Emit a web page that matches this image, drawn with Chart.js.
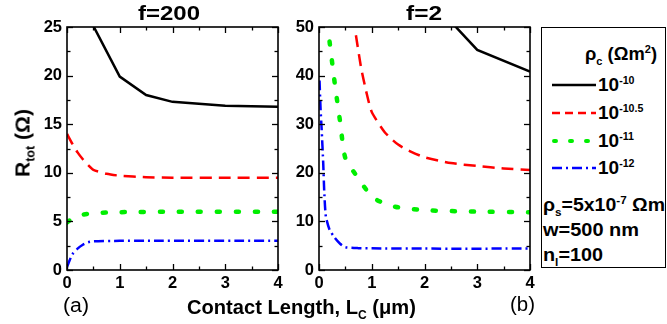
<!DOCTYPE html>
<html>
<head>
<meta charset="utf-8">
<script src="https://cdn.jsdelivr.net/npm/chart.js@4.4.1/dist/chart.umd.min.js"></script>
<style>
  html,body{margin:0;padding:0;background:#fff;}
  body{width:667px;height:324px;position:relative;overflow:hidden;font-family:"Liberation Sans",Arial,sans-serif;color:#000;}
  .abs{position:absolute;white-space:nowrap;line-height:1;transform-origin:0 0;}
  .b{font-weight:bold;}
  sup,sub{font-size:60%;line-height:0;}
  .leg sup{font-size:56%;vertical-align:0.7em;}
  #legend{position:absolute;left:541px;top:27px;width:125px;height:241px;border:1.5px solid #000;box-sizing:border-box;}
</style>
</head>
<body>
<canvas id="cA" class="abs" style="left:0;top:0;" width="290" height="324"></canvas>
<canvas id="cB" class="abs" style="left:290px;top:0;" width="250" height="324"></canvas>

<div class="abs b fit" data-w="62" style="left:138px;top:3px;font-size:20px;">f=200</div>
<div class="abs b fit" data-w="36" style="left:406px;top:3px;font-size:20px;">f=2</div>
<div class="abs b" style="left:22px;top:143px;font-size:21px;transform-origin:50% 50%;transform:translate(-50%,-50%) rotate(-90deg);">R<sub>tot</sub> (Ω)</div>
<div class="abs b fit" data-w="229" style="left:187px;top:297px;font-size:20px;">Contact Length, L<sub>C</sub> (μm)</div>
<div class="abs fit" data-w="26" style="left:63px;top:295px;font-size:20px;">(a)</div>
<div class="abs fit" data-w="25" style="left:510px;top:294px;font-size:20px;">(b)</div>

<div id="legend"></div>
<div class="abs b fit" data-w="72" style="left:585px;top:45px;font-size:18px;">ρ<sub>c</sub> (Ωm<sup>2</sup>)</div>
<svg class="abs" style="left:541px;top:27px;" width="124" height="240">
  <line x1="11" y1="58" x2="55" y2="58" stroke="#000" stroke-width="2.5"/>
  <line x1="11" y1="86" x2="55" y2="86" stroke="#ff0000" stroke-width="2.5" stroke-dasharray="8 5"/>
  <line x1="13" y1="114" x2="55" y2="114" stroke="#00ee00" stroke-width="4" stroke-linecap="round" stroke-dasharray="2 14"/>
  <line x1="11" y1="141" x2="55" y2="141" stroke="#0000ff" stroke-width="2.5" stroke-dasharray="10 4 2 4"/>
</svg>
<div id="legtxt"></div>
<div class="abs b fit" data-w="122" style="left:543px;top:195px;font-size:19px;">ρ<sub>s</sub>=5x10<sup>-7</sup> Ωm</div>
<div class="abs b fit" data-w="96" style="left:543px;top:220px;font-size:19px;">w=500 nm</div>
<div class="abs b fit" data-w="60" style="left:543px;top:245px;font-size:19px;">n<sub>l</sub>=100</div>

<script>
// ---------- data ----------
const seriesLabels = ["-10", "-10.5", "-11", "-12"];
const seriesColors = ["#000000", "#ff0000", "#00ee00", "#0000ff"];

// Panel (a): f=200
const aBlackX = [0.25, 0.5, 1, 1.5, 2, 3, 4];
const aBlackY = [34, 25.1, 19.9, 18.0, 17.3, 16.9, 16.8];
const aRedX = [0, 0.1, 0.2, 0.3, 0.4, 0.5, 0.75, 1, 1.5, 2, 3, 4];
const aRedY = [14.0, 13.0, 12.1, 11.4, 10.8, 10.3, 9.9, 9.7, 9.55, 9.5, 9.5, 9.5];
const aGreenX = [0, 0.1, 0.2, 0.3, 0.5, 1, 2, 4];
const aGreenY = [4.9, 5.3, 5.55, 5.7, 5.85, 5.95, 6.0, 6.0];
const aBlueX = [0, 0.05, 0.1, 0.2, 0.3, 0.4, 0.5, 1, 4];
const aBlueY = [0.3, 1.0, 1.6, 2.2, 2.6, 2.85, 2.95, 3.0, 3.0];

// Panel (b): f=2
const bBlackX = [2, 2.5, 3, 4];
const bBlackY = [60, 51.1, 45.3, 40.8];
const bRedX = [0.7, 0.8, 0.9, 1, 1.25, 1.5, 1.75, 2, 2.5, 3, 3.5, 4];
const bRedY = [48.3, 41.5, 36.5, 32.5, 28.3, 25.8, 24.3, 23.2, 22.0, 21.4, 20.9, 20.6];
const bGreenX = [0.2, 0.3, 0.4, 0.5, 0.75, 1, 1.25, 1.5, 2, 3, 4];
const bGreenY = [47, 38.3, 30.5, 23, 18.8, 15.1, 13.6, 12.9, 12.3, 12.0, 11.9];
const bBlueX = [0.01, 0.03, 0.05, 0.08, 0.1, 0.13, 0.2, 0.3, 0.4, 0.5, 0.75, 1, 2, 4];
const bBlueY = [39, 33, 29, 22, 16, 11, 8.3, 6.6, 5.4, 4.7, 4.5, 4.45, 4.4, 4.4];

// axis ranges / ticks
const aXRange = [0, 4], aYRange = [0, 25];
const bXRange = [0, 4], bYRange = [0, 50];
const aXStep = 1, aYStep = 5, bXStep = 1, bYStep = 10;

// ---------- legend text ----------
const legtxt = document.getElementById('legtxt');
const legTops = [75, 103, 131, 158];
seriesLabels.forEach((s, i) => {
  const d = document.createElement('div');
  d.className = 'abs b leg';
  d.style.left = '598px';
  d.style.top = legTops[i] + 'px';
  d.style.fontSize = '19px';
  d.innerHTML = '10<sup>' + s + '</sup>';
  legtxt.appendChild(d);
});

// horizontally fit text blocks to the reference widths
document.querySelectorAll('.fit').forEach(el => {
  const w = el.getBoundingClientRect().width;
  const t = parseFloat(el.dataset.w);
  if (w > 0) el.style.transform = 'scaleX(' + (t / w).toFixed(3) + ')';
});

// ---------- helpers ----------
const pts = (xs, ys) => xs.map((x, i) => ({x, y: ys[i]}));
const styles = [
  {borderWidth: 2.5, borderDash: [], tension: 0},
  {borderWidth: 2.5, borderDash: [12, 7], tension: 0.2},
  {borderWidth: 4.5, borderDash: [3, 16], borderCapStyle: 'round', tension: 0.2},
  {borderWidth: 2.5, borderDash: [10, 4, 2, 4], tension: 0.2},
];
function makeDatasets(arrs) {
  return arrs.map((a, i) => Object.assign({
    data: pts(a[0], a[1]),
    borderColor: seriesColors[i],
    pointRadius: 0,
    fill: false,
  }, styles[i]));
}

const frameTicks = {
  id: 'frameTicks',
  afterDatasetsDraw(chart, args, opts) {
    const {ctx, chartArea: {left, right, top, bottom}, scales: {x, y}} = chart;
    ctx.save();
    ctx.strokeStyle = '#000';
    ctx.lineWidth = 1.3;
    const ln = (x1, y1, x2, y2) => { ctx.beginPath(); ctx.moveTo(x1, y1); ctx.lineTo(x2, y2); ctx.stroke(); };
    const isMajor = (v, st) => Math.abs(v / st - Math.round(v / st)) < 1e-6;
    for (let v = x.min; v <= x.max + 1e-9; v += opts.xStep / 2) {
      const px = Math.round(x.getPixelForValue(v)) + 0.5;
      const L = isMajor(v, opts.xStep) ? 6 : 3.5;
      ln(px, bottom, px, bottom - L);
      ln(px, top, px, top + L);
    }
    for (let v = y.min; v <= y.max + 1e-9; v += opts.yStep / 2) {
      const py = Math.round(y.getPixelForValue(v)) + 0.5;
      const L = isMajor(v, opts.yStep) ? 6 : 3.5;
      ln(left, py, left + L, py);
      ln(right, py, right - L, py);
    }
    ctx.lineWidth = 1.6;
    ctx.strokeRect(left, top, right - left, bottom - top);
    ctx.restore();
  }
};

function makeChart(id, datasets, xr, yr, xs, ys, yw, padRight) {
  const tickFont = {family: '"Liberation Sans", Arial, sans-serif', weight: 'bold', size: 16.5};
  return new Chart(document.getElementById(id), {
    type: 'line',
    data: {datasets},
    options: {
      responsive: false,
      animation: false,
      layout: {padding: {top: 27, right: padRight, bottom: 0, left: 0}},
      plugins: {legend: {display: false}, tooltip: {enabled: false}, frameTicks: {xStep: xs, yStep: ys}},
      scales: {
        x: {
          type: 'linear', min: xr[0], max: xr[1],
          ticks: {stepSize: xs, color: '#000', font: tickFont, padding: 4, maxRotation: 0},
          grid: {display: false, drawTicks: false},
          border: {display: false},
          afterFit: s => { s.height = 54; }
        },
        y: {
          type: 'linear', min: yr[0], max: yr[1],
          ticks: {stepSize: ys, color: '#000', font: tickFont, padding: 5},
          grid: {display: false, drawTicks: false},
          border: {display: false},
          afterFit: s => { s.width = yw; }
        }
      }
    },
    plugins: [frameTicks]
  });
}

makeChart('cA', makeDatasets([[aBlackX, aBlackY], [aRedX, aRedY], [aGreenX, aGreenY], [aBlueX, aBlueY]]),
  aXRange, aYRange, aXStep, aYStep, 67, 12);
makeChart('cB', makeDatasets([[bBlackX, bBlackY], [bRedX, bRedY], [bGreenX, bGreenY], [bBlueX, bBlueY]]),
  bXRange, bYRange, bXStep, bYStep, 29, 10);
</script>
</body>
</html>
